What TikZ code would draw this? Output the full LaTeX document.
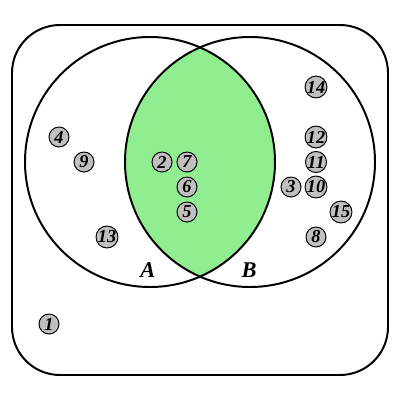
\documentclass[tikz,border=0pt]{standalone}
\usepackage{fontspec}
\setmainfont{Liberation Serif}
\definecolor{lensgreen}{HTML}{90EE90}
\definecolor{elemgray}{HTML}{C0C0C0}
\begin{document}
\begin{tikzpicture}[x=0.25mm,y=-0.25mm,
  elem/.style={circle,draw,fill=elemgray,line width=0.7pt,minimum size=5mm,inner sep=0pt,font=\fontsize{13}{13}\selectfont\bfseries\itshape},
  setname/.style={font=\fontsize{16}{16}\selectfont\bfseries\itshape}]
  \useasboundingbox (0,0) rectangle (400,400);
  % universe
  \draw[line width=1.4pt,rounded corners=12mm] (12,25) rectangle (388,375);
  % intersection
  \begin{scope}
    \clip (150,162) circle (125);
    \fill[lensgreen] (250,162) circle (125);
  \end{scope}
  % sets
  \draw[line width=1.4pt] (150,162) circle (125);
  \draw[line width=1.4pt] (250,162) circle (125);
  \node[setname] (la) at (148,270) {A};
  \node[setname] (lb) at (249,270) {B};
  % elements
  \node[elem] (e1) at (49,324) {1};
  \node[elem] (e2) at (162,162) {2};
  \node[elem] (e3) at (291,187) {3};
  \node[elem] (e4) at (59,137) {4};
  \node[elem] (e5) at (187,212) {5};
  \node[elem] (e6) at (187,187) {6};
  \node[elem] (e7) at (187,162) {7};
  \node[elem] (e8) at (316,237) {8};
  \node[elem] (e9) at (84,162) {9};
  \node[elem] (e10) at (316,187) {10};
  \node[elem] (e11) at (316,162) {11};
  \node[elem] (e12) at (316,137) {12};
  \node[elem] (e13) at (107,237) {13};
  \node[elem] (e14) at (316,87) {14};
  \node[elem] (e15) at (341,212) {15};
\end{tikzpicture}
\end{document}
